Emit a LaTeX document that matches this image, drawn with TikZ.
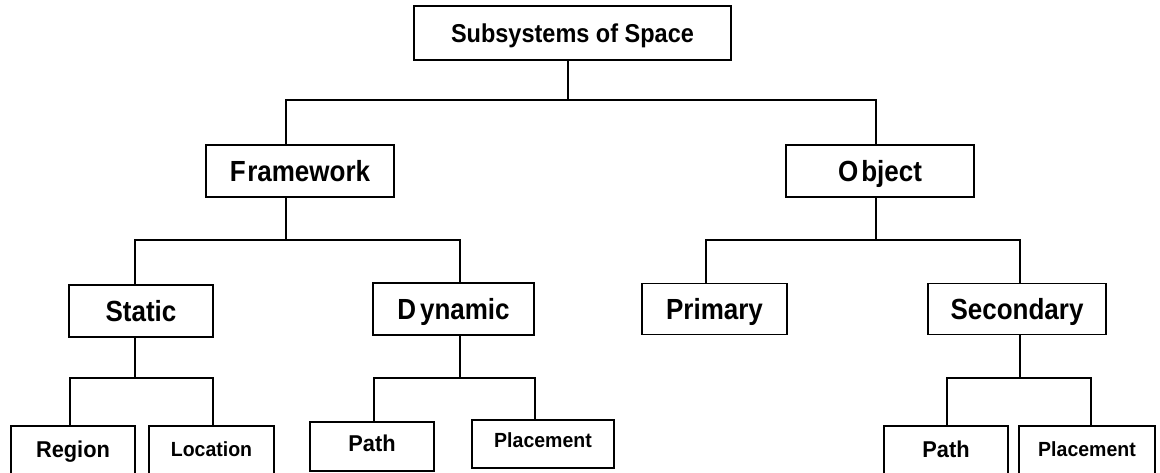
\documentclass[tikz,border=0pt]{standalone}
\usepackage{graphicx}
\usepackage{fontspec}
\setmainfont{Liberation Sans}
\newcommand\vstr[2]{\scalebox{1}[#1]{#2}}
\begin{document}
\begin{tikzpicture}[x=1pt,y=1pt,
  box/.style={draw=black, line width=1.5pt, inner sep=0pt, fill=white, align=center, text depth=0pt},
  conn/.style={draw=black, line width=1.5pt},
  ftitle/.style={font=\fontsize{23.5}{23.5}\selectfont\bfseries, text height=18.5pt},
  fmid/.style={font=\fontsize{26}{26}\selectfont\bfseries, text height=21pt},
  flow/.style={font=\fontsize{21.8}{21.8}\selectfont\bfseries, text height=16.4pt},
  flows/.style={font=\fontsize{19.5}{19.5}\selectfont\bfseries, text height=14.7pt}]
\clip (0,0) rectangle (1160,-472);
\fill[white] (0,0) rectangle (1160,-472);
% nodes
\node[box, ftitle, minimum width=317pt, minimum height=54pt] (top) at (572.5,-33) {\vstr{1.1}{Subsystems of Space}};
\node[box, fmid, minimum width=188pt, minimum height=52pt] (fw) at (300,-171) {\vstr{1.12}{F\kern1.5pt ramework}};
\node[box, fmid, minimum width=188pt, minimum height=52pt] (obj) at (880,-171) {\vstr{1.12}{O\kern3pt bject}};
\node[box, fmid, minimum width=144pt, minimum height=52pt] (st) at (141,-311) {\vstr{1.12}{Static}};
\node[box, fmid, minimum width=161pt, minimum height=52pt] (dy) at (453.5,-309) {\vstr{1.12}{D\kern4pt ynamic}};
\node[box, fmid, minimum width=145pt, minimum height=51pt] (pr) at (714.5,-309) {\vstr{1.12}{Primary}};
\node[box, fmid, minimum width=178pt, minimum height=51pt] (se) at (1017,-309) {\vstr{1.12}{Secondary}};
\node[box, flow, text depth=4pt, minimum width=124pt, minimum height=50pt] (rg) at (73,-451) {\vstr{1.05}{Region}};
\node[box, flows, text depth=4pt, minimum width=125pt, minimum height=50pt] (lc) at (211.5,-451) {\vstr{1.05}{Location}};
\node[box, flow, text depth=6pt, minimum width=124pt, minimum height=49pt] (pa) at (372,-446.5) {\vstr{1.05}{Path}};
\node[box, flows, text depth=8pt, minimum width=142pt, minimum height=48pt] (pl) at (543,-444) {\vstr{1.05}{Placement}};
\node[box, flow, text depth=4pt, minimum width=124pt, minimum height=50pt] (pa2) at (946,-451) {\vstr{1.05}{Path}};
\node[box, flows, text depth=4pt, minimum width=136pt, minimum height=50pt] (pl2) at (1087,-451) {\vstr{1.05}{Placement}};
% junctions
\coordinate (j0) at (568,-100);
\coordinate (j1) at (286,-240);
\coordinate (j2) at (876,-240);
\coordinate (j3) at (135,-378);
\coordinate (j4) at (460,-378);
\coordinate (j5) at (1020,-378);
% connectors
\draw[conn] ([xshift=-4.5pt]top.south) -- (j0);
\draw[conn] (j0) -| ([xshift=-14pt]fw.north);
\draw[conn] (j0) -| ([xshift=-4pt]obj.north);
\draw[conn] ([xshift=-14pt]fw.south) -- (j1);
\draw[conn] (j1) -| ([xshift=-6pt]st.north);
\draw[conn] (j1) -| ([xshift=6.5pt]dy.north);
\draw[conn] ([xshift=-4pt]obj.south) -- (j2);
\draw[conn] (j2) -| ([xshift=-8.5pt]pr.north);
\draw[conn] (j2) -| ([xshift=3pt]se.north);
\draw[conn] ([xshift=-6pt]st.south) -- (j3);
\draw[conn] (j3) -| ([xshift=-3pt]rg.north);
\draw[conn] (j3) -| ([xshift=1.5pt]lc.north);
\draw[conn] ([xshift=6.5pt]dy.south) -- (j4);
\draw[conn] (j4) -| ([xshift=2pt]pa.north);
\draw[conn] (j4) -| ([xshift=-8pt]pl.north);
\draw[conn] ([xshift=3pt]se.south) -- (j5);
\draw[conn] (j5) -| ([xshift=1pt]pa2.north);
\draw[conn] (j5) -| ([xshift=4pt]pl2.north);
\end{tikzpicture}
\end{document}
